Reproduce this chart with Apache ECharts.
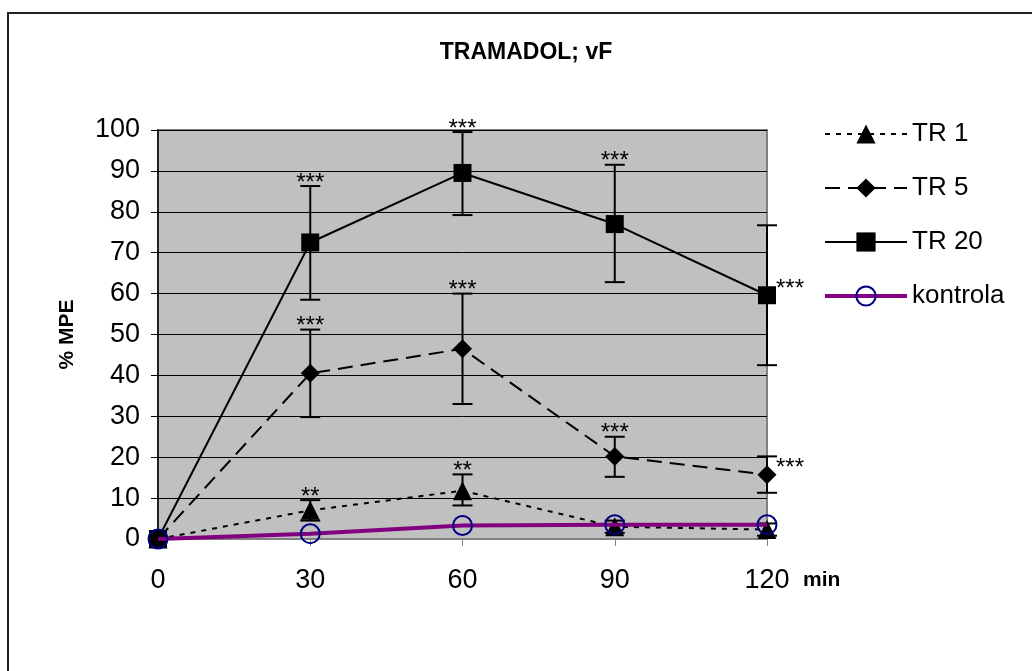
<!DOCTYPE html>
<html>
<head>
<meta charset="utf-8">
<script src="https://cdn.jsdelivr.net/npm/echarts@6/dist/echarts.min.js"></script>
<style>
	html, body { margin: 0; padding: 0; background: #fff; }
	#main { width: 1032px; height: 671px; }
</style>
</head>
<body>
<div id="main"></div>
<script>
	// ***** data
	var minutes = [0, 30, 60, 90, 120];
	var tickLabels = ['0', '30', '60', '90', '120'];

	var tr1 = [0, 7, 11.8, 3, 2.3];
	var tr1Low = [0, 4.5, 8.2, 1.5, 0.8];
	var tr1High = [0, 9.5, 15.8, 4.5, 3.8];
	var sig1 = ['', '**', '**', '', ''];

	var tr5 = [0, 40.5, 46.5, 20.2, 15.7];
	var tr5Low = [0, 29.8, 33, 15.2, 11.3];
	var tr5High = [0, 51.2, 60, 25, 20.2];
	var sig5 = ['', '***', '***', '***', '***'];

	var tr20 = [0, 72.5, 89.5, 77, 59.6];
	var tr20Low = [0, 58.5, 79.2, 62.8, 42.5];
	var tr20High = [0, 86.3, 99.5, 91.5, 76.7];
	var sig20 = ['', '***', '***', '***', '***'];

	var kontrola = [0, 1.3, 3.3, 3.5, 3.5];

	var font = '"Liberation Sans", Arial, sans-serif';

	function pairs(vals) {
		var out = [];
		for (var i = 0; i < minutes.length; i++) {
			out.push([minutes[i], vals[i]]);
		}
		return out;
	}

	function errData(lo, hi) {
		var out = [];
		for (var i = 0; i < minutes.length; i++) {
			if (hi[i] > lo[i]) out.push([minutes[i], lo[i], hi[i]]);
		}
		return out;
	}

	function sigData(mean, hi, sig) {
		var out = [];
		for (var i = 0; i < minutes.length; i++) {
			if (sig[i]) out.push([minutes[i], mean[i], hi[i], sig[i]]);
		}
		return out;
	}

	// error bars with caps
	function errorItem(params, api) {
		var x = api.value(0);
		var pLo = api.coord([x, api.value(1)]);
		var pHi = api.coord([x, api.value(2)]);
		var w = 10;
		var st = { stroke: '#000', lineWidth: 2 };
		return {
			type: 'group',
			children: [
				{ type: 'line', shape: { x1: pLo[0], y1: pLo[1], x2: pHi[0], y2: pHi[1] }, style: st },
				{ type: 'line', shape: { x1: pLo[0] - w, y1: pLo[1], x2: pLo[0] + w, y2: pLo[1] }, style: st },
				{ type: 'line', shape: { x1: pHi[0] - w, y1: pHi[1], x2: pHi[0] + w, y2: pHi[1] }, style: st }
			]
		};
	}

	// significance stars: above the bar, or right of the point at 120 min
	function starItem(params, api) {
		var x = api.value(0);
		var txt = api.value(3);
		var p, align;
		if (x === 120) {
			p = api.coord([x, api.value(1)]);
			p = [p[0] + 9, p[1] - 6];
			align = 'left';
		} else {
			p = api.coord([x, api.value(2)]);
			p = [p[0], p[1] - 3];
			align = 'center';
		}
		return {
			type: 'text',
			x: p[0],
			y: p[1],
			style: {
				text: txt,
				font: '24px ' + font,
				fill: '#000',
				textAlign: align,
				textVerticalAlign: 'middle'
			}
		};
	}

	var myChart = echarts.init(document.getElementById('main'));

	var option = {
		animation: false,
		backgroundColor: '#fff',
		title: {
			text: 'TRAMADOL; vF',
			left: 521,
			top: 36,
			textAlign: 'center',
			textStyle: { fontFamily: font, fontSize: 23, fontWeight: 'bold', color: '#000' }
		},
		legend: {
			orient: 'vertical',
			left: 823,
			top: 121,
			padding: 0,
			itemWidth: 82,
			itemHeight: 24,
			itemGap: 28,
			textStyle: { fontFamily: font, fontSize: 26, color: '#000' },
			data: [
				'TR 1',
				'TR 5',
				'TR 20',
				{ name: 'kontrola', lineStyle: { width: 4, color: '#800080' } }
			]
		},
		graphic: [
			{
				type: 'rect',
				shape: { x: 8, y: 13, width: 1200, height: 800 },
				style: { fill: 'none', stroke: '#222', lineWidth: 2 },
				silent: true
			},
			{
				type: 'text',
				left: 803,
				top: 570,
				style: { text: 'min', font: 'bold 21px ' + font, fill: '#000' }
			}
		],
		grid: {
			left: 158,
			right: 265,
			top: 130,
			bottom: 132,
			show: true,
			backgroundColor: '#c0c0c0',
			borderColor: '#808080',
			borderWidth: 2
		},
		xAxis: {
			type: 'value',
			min: 0,
			max: 120,
			interval: 30,
			axisLine: { show: true, lineStyle: { color: '#808080', width: 2 } },
			axisTick: { show: true, length: 7, lineStyle: { color: '#808080', width: 1 } },
			splitLine: { show: false },
			axisLabel: {
				margin: 28,
				fontFamily: font,
				fontSize: 27,
				color: '#000',
				formatter: function (v) { return tickLabels[minutes.indexOf(v)]; }
			}
		},
		yAxis: {
			type: 'value',
			min: 0,
			max: 100,
			interval: 10,
			name: '% MPE',
			nameLocation: 'middle',
			nameRotate: 90,
			nameGap: 80,
			nameTextStyle: { fontFamily: font, fontSize: 21, fontWeight: 'bold', color: '#000' },
			axisLine: { show: true, lineStyle: { color: '#000', width: 1.5 } },
			axisTick: { show: true, length: 7, lineStyle: { color: '#000' } },
			splitLine: { show: true, lineStyle: { color: '#000', width: 1 } },
			axisLabel: { margin: 18, fontFamily: font, fontSize: 27, color: '#000' }
		},
		series: [
			{
				name: 'TR 1',
				type: 'line',
				data: pairs(tr1),
				symbol: 'triangle',
				symbolSize: 19,
				itemStyle: { color: '#000' },
				lineStyle: { color: '#000', width: 2, type: [5, 6] },
				z: 3
			},
			{
				name: 'TR 5',
				type: 'line',
				data: pairs(tr5),
				symbol: 'diamond',
				symbolSize: 19,
				itemStyle: { color: '#000' },
				lineStyle: { color: '#000', width: 2, type: [15, 8] },
				z: 3
			},
			{
				name: 'TR 20',
				type: 'line',
				data: pairs(tr20),
				symbol: 'rect',
				symbolSize: 18,
				itemStyle: { color: '#000' },
				lineStyle: { color: '#000', width: 2 },
				z: 3
			},
			{
				name: 'kontrola',
				type: 'line',
				data: pairs(kontrola),
				symbol: 'circle',
				symbolSize: 19,
				itemStyle: { color: 'rgba(0,0,0,0)', borderColor: '#000080', borderWidth: 2 },
				lineStyle: { color: '#800080', width: 4 },
				z: 4
			},
			{ type: 'custom', renderItem: errorItem, data: errData(tr1Low, tr1High), z: 2 },
			{ type: 'custom', renderItem: errorItem, data: errData(tr5Low, tr5High), z: 2 },
			{ type: 'custom', renderItem: errorItem, data: errData(tr20Low, tr20High), z: 2 },
			{ type: 'custom', renderItem: starItem, data: sigData(tr1, tr1High, sig1), z: 5 },
			{ type: 'custom', renderItem: starItem, data: sigData(tr5, tr5High, sig5), z: 5 },
			{ type: 'custom', renderItem: starItem, data: sigData(tr20, tr20High, sig20), z: 5 }
		]
	};

	option && myChart.setOption(option);
</script>
</body>
</html>
